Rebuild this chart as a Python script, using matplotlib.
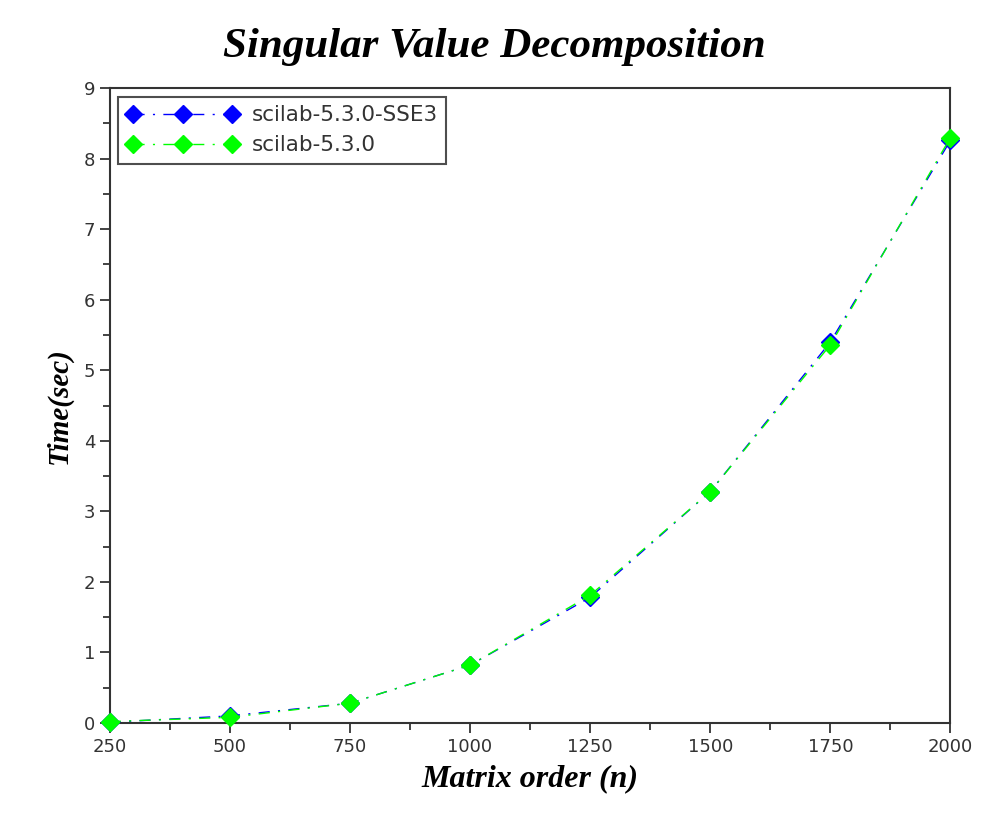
import numpy as np
import matplotlib
matplotlib.use('Agg')
import matplotlib.pyplot as plt
from matplotlib.ticker import MultipleLocator

# ── Timings (seconds) per matrix order ────────────────────────────────────────
matrix_order = [250, 500, 750, 1000, 1250, 1500, 1750, 2000]
time_sse3 = [0.01, 0.10, 0.28, 0.82, 1.78, 3.28, 5.40, 8.26]
time_plain = [0.02, 0.08, 0.28, 0.82, 1.81, 3.28, 5.36, 8.30]
labels = ['scilab-5.3.0-SSE3', 'scilab-5.3.0']

fig = plt.figure(figsize=(9.88, 8.16), dpi=100)
ax = fig.add_axes([0.111, 0.114, 0.851, 0.778])

dashdot = (0, (8, 6, 1.5, 6))
ax.plot(matrix_order, time_sse3, color='#0000ff', ls=dashdot, lw=1.0,
        marker='D', ms=9, label=labels[0], clip_on=False, zorder=3)
ax.plot(matrix_order, time_plain, color='#00ff00', ls=dashdot, lw=1.0,
        marker='D', ms=9, label=labels[1], clip_on=False, zorder=4)

ax.set_xlim(250, 2000)
ax.set_ylim(0, 9)
ax.set_xticks(matrix_order)
ax.xaxis.set_minor_locator(MultipleLocator(125))
ax.yaxis.set_major_locator(MultipleLocator(1))
ax.yaxis.set_minor_locator(MultipleLocator(0.5))
ax.tick_params(which='both', direction='out', top=False, right=False,
               colors='#222222', labelcolor='#333333', labelsize=13)
ax.tick_params(which='major', length=7, width=1.2)
ax.tick_params(which='minor', length=5, width=1.2)
for s in ax.spines.values():
    s.set_linewidth(1.5)
    s.set_color('#333333')

serif = {'family': 'Liberation Serif', 'weight': 'bold', 'style': 'italic'}
ax.set_xlabel('Matrix order (n)', fontdict=serif, fontsize=23, labelpad=6)
ax.set_ylabel('Time(sec)', fontdict=serif, fontsize=21, labelpad=8)
fig.text(0.5, 0.943, 'Singular Value Decomposition', ha='center', va='center',
         fontdict=serif, fontsize=31)

leg = ax.legend(loc='upper left', fontsize=15.5, frameon=True, fancybox=False,
                edgecolor='#222222', borderaxespad=0.4, handlelength=5.2,
                numpoints=3, labelspacing=0.45, handletextpad=0.6,
                borderpad=0.4)
leg.get_frame().set_linewidth(1.5)
for t in leg.get_texts():
    t.set_color('#333333')

plt.savefig('out.png', dpi=100)
